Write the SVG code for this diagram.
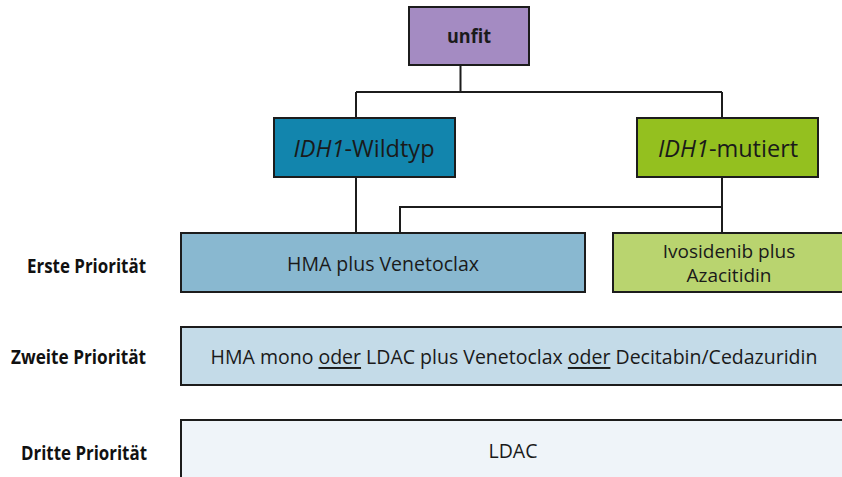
<svg xmlns="http://www.w3.org/2000/svg" width="842" height="477" viewBox="0 0 842 477">
  <style>
    .box { stroke: #1c1c1c; stroke-width: 2; }
    .lbl { font-family: "Open Sans", "Noto Sans", "Liberation Sans", sans-serif; fill: #1a1a1a; text-anchor: middle; dominant-baseline: central; }
    .prio { font-family: "Open Sans", "Noto Sans", "Liberation Sans", sans-serif; font-weight: 700; font-size: 19.5px; fill: #111; text-anchor: end; }
    .link { fill: none; stroke: #1c1c1c; stroke-width: 2; }
    .u { text-decoration: underline; }
  </style>

  <!-- connectors -->
  <g id="connectors">
    <path class="link" d="M460.5 65 V92 M356 92 H722 M356 92 V118 M722 92 V118"/>
    <path class="link" d="M356 177 V233"/>
    <path class="link" d="M722 177 V233 M722 207 H400 V233"/>
  </g>

  <g id="unfit">
    <rect class="box" x="409" y="7" width="120" height="58" fill="#a48bc2"/>
    <text class="lbl" x="469" y="36" font-size="19" font-weight="700" textLength="44" lengthAdjust="spacingAndGlyphs">unfit</text>
  </g>

  <g id="idh1-wildtyp">
    <rect class="box" x="274" y="118" width="181" height="59" fill="#1285ad"/>
    <text class="lbl" x="364" y="148" font-size="23.5"><tspan font-style="italic">IDH1</tspan>-Wildtyp</text>
  </g>

  <g id="idh1-mutiert">
    <rect class="box" x="637" y="118" width="181" height="59" fill="#94c01f"/>
    <text class="lbl" x="728" y="148" font-size="23.5"><tspan font-style="italic">IDH1</tspan>-mutiert</text>
  </g>

  <g id="hma-venetoclax">
    <rect class="box" x="181" y="233" width="404" height="59" fill="#89b8d0"/>
    <text class="lbl" x="383" y="263" font-size="19.5">HMA plus Venetoclax</text>
  </g>

  <g id="ivosidenib-azacitidin">
    <rect class="box" x="613" y="233" width="233" height="59" fill="#b9d46f"/>
    <text class="lbl" x="729" y="251" font-size="19">Ivosidenib plus</text>
    <text class="lbl" x="729" y="275" font-size="19">Azacitidin</text>
  </g>

  <g id="zweite">
    <rect class="box" x="181" y="327" width="665" height="58" fill="#c4dbe8"/>
    <text class="lbl" x="514" y="356" font-size="19.5">HMA mono <tspan class="u">oder</tspan> LDAC plus Venetoclax <tspan class="u">oder</tspan> Decitabin/Cedazuridin</text>
  </g>

  <g id="dritte">
    <rect class="box" x="181" y="420" width="665" height="70" fill="#eff4f9"/>
    <text class="lbl" x="513" y="450" font-size="19.5">LDAC</text>
  </g>

  <g id="priorities">
    <text class="prio" x="146" y="273" textLength="119" lengthAdjust="spacingAndGlyphs">Erste Priorität</text>
    <text class="prio" x="146" y="364" textLength="135" lengthAdjust="spacingAndGlyphs">Zweite Priorität</text>
    <text class="prio" x="147" y="460" textLength="126" lengthAdjust="spacingAndGlyphs">Dritte Priorität</text>
  </g>
</svg>
